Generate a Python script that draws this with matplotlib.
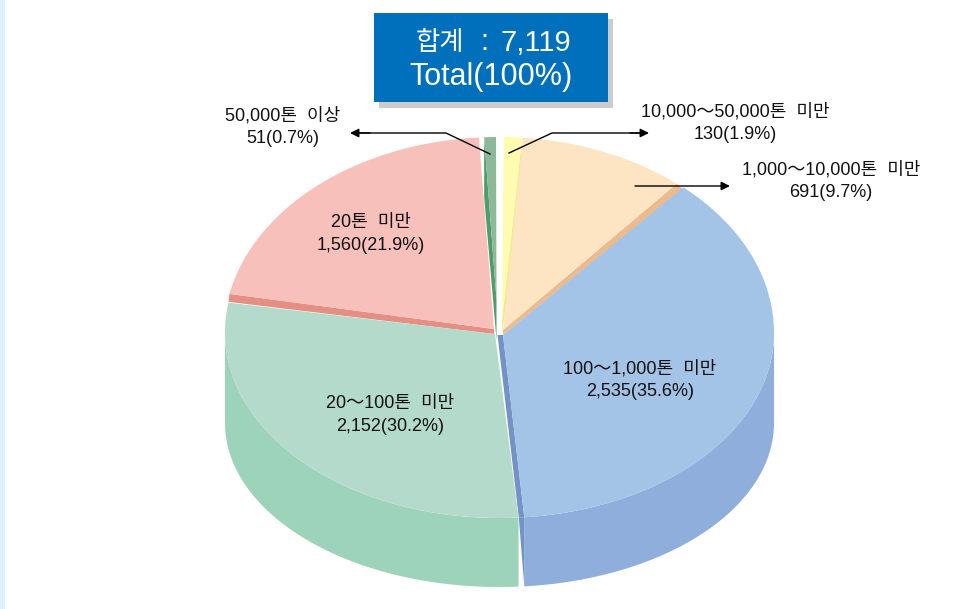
import numpy as np
import matplotlib
matplotlib.use('Agg')
import matplotlib.pyplot as plt
from matplotlib.patches import Polygon, Rectangle

plt.rcParams['font.family'] = ['Liberation Sans', 'Noto Sans CJK KR', 'DejaVu Sans']

# order: clockwise from 12 o'clock
categories = ['10,000～50,000톤  미만', '1,000～10,000톤  미만', '100～1,000톤  미만',
              '20～100톤  미만', '20톤  미만', '50,000톤  이상']
counts = [130, 691, 2535, 2152, 1560, 51]
percents = [1.9, 9.7, 35.6, 30.2, 21.9, 0.7]
total = 7119
drawn_share = [1.06, 9.83, 36.92, 28.61, 20.69, 0.69]
pad_after = [0.2, 1.6, 1.0, 2.6, 0.9, 0.0]
start_angle = 1.0

top_colors = ['#fffbb0', '#fde5c3', '#a3c3e7', '#b4dacb', '#f7c0bb', '#8db998']
wall_colors = [None, None, '#8faedb', '#9dd3ba', None, None]
face_colors = ['#f0ee8a', '#ebbb8e', '#7393c7', None, '#e58f84', '#4f9c6c']

# pie layout in pixels
cx, cy = 499, 333
rx, ry_up, ry_down = 274, 196, 185
wall_drop, ry_low = 90, 164
rim_dx = [0, 0, 1, 0, -1, 0]
apex = [(502, 320), (503, 330), (503, 335), (495, 334), (494, 329), (496.5, 300)]
# which rim end the inner face hangs from, its rim shift, its apex shift
face_side = [1, 1, 1, None, 0, 0]
face_rim = [(0, 50), (6, 5), (-5.5, 0), None, (-1, 8), (0, 60)]
face_apex = [(0, 14), (0, 5), (-5.5, 0), None, (0, 5), (0, 40)]


def rim_point(angle, dx=0):
    a = np.radians(angle)
    c = np.cos(a)
    ry = ry_up if c > 0 else ry_down
    return cx + dx + rx * np.sin(a), cy - ry * c


def low_point(angle, dx=0):
    a = np.radians(angle)
    return cx + dx + rx * np.sin(a), cy + wall_drop - ry_low * np.cos(a)


def rim_points(a0, a1, dx=0):
    return [rim_point(a, dx) for a in np.linspace(a0, a1, 120)]


fig = plt.figure(figsize=(9.57, 6.09), dpi=100)
ax = fig.add_axes([0, 0, 1, 1])
ax.set_xlim(0, 957)
ax.set_ylim(609, 0)
ax.axis('off')

ax.add_patch(Rectangle((0, 0), 4.5, 609, color='#ddf1fd', lw=0))

angles = []
a = start_angle
for share, pad in zip(drawn_share, pad_after):
    angles.append((a, a + share * 3.6))
    a += share * 3.6 + pad

# back slices first, then the front ones over them
for i in [5, 0, 4, 1, 2, 3]:
    a0, a1 = angles[i]
    dx = rim_dx[i]
    if wall_colors[i]:
        w0, w1 = max(a0, 90), min(a1, 270)
        rim = rim_points(w0, w1, dx)
        low = [low_point(t, dx) for t in np.linspace(w0, w1, 120)]
        ax.add_patch(Polygon(rim + low[::-1], color=wall_colors[i], lw=0))
    if face_colors[i]:
        end = a1 if face_side[i] else a0
        rp = rim_point(end, dx)
        r2 = (rp[0] + face_rim[i][0], rp[1] + face_rim[i][1])
        ap = apex[i]
        a2 = (ap[0] + face_apex[i][0], ap[1] + face_apex[i][1])
        ax.add_patch(Polygon([ap, rp, r2, a2], color=face_colors[i], lw=0))
        if wall_colors[i]:
            ax.add_patch(Polygon([rp, r2, low_point(end, dx)], color=face_colors[i], lw=0))
    ax.add_patch(Polygon([apex[i]] + rim_points(a0, a1, dx), color=top_colors[i], lw=0))

# total box
ax.add_patch(Rectangle((379, 19), 234, 89, color='#cccccc', lw=0))
ax.add_patch(Rectangle((374, 13), 234, 89, color='#0070bc', lw=0))
ax.text(440, 43, '합계', color='white', fontsize=19, ha='center', va='center')
ax.text(484, 42, ':', color='white', fontsize=21, ha='center', va='center')
ax.text(536, 43, f'{total:,}', color='white', fontsize=21, ha='center', va='center')
ax.text(491.5, 77, 'Total(100%)', color='white', fontsize=22, ha='center', va='center')

# slice labels
label_pos = [(735, 123), (831, 181), (640, 380), (390, 415), (371, 234), (283, 127)]
for name, n, p, (x, y) in zip(categories, counts, percents, label_pos):
    ax.text(x, y, f'{name}\n{n:,}({p}%)', color='#111111', fontsize=13, ha='center',
            va='center', linespacing=1.4)

# leader lines
arrow = dict(arrowstyle='-|>', color='black', lw=1, shrinkA=0, shrinkB=0, mutation_scale=13)
ax.plot([490, 446, 360], [154, 133, 133], color='black', lw=1)
ax.plot([509, 552, 640], [153, 133, 133], color='black', lw=1)
ax.annotate('', xy=(350, 133), xytext=(370, 133), arrowprops=arrow)
ax.annotate('', xy=(649, 133), xytext=(630, 133), arrowprops=arrow)
ax.annotate('', xy=(730, 186), xytext=(635, 186), arrowprops=arrow)

fig.savefig('out.png', dpi=100)
